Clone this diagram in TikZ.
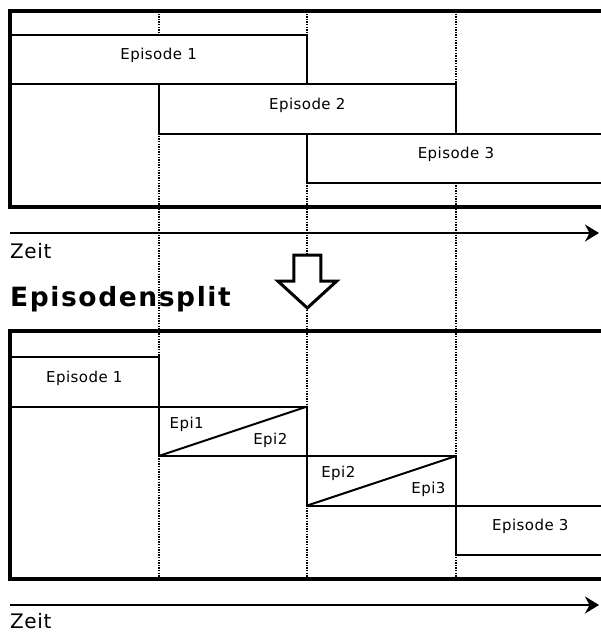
\documentclass[tikz,border=0pt]{standalone}
\usepackage{fontspec}
\setmainfont[LetterSpace=3]{DejaVu Sans}
\newfontfamily\splitfont[LetterSpace=6]{DejaVu Sans}
\usepackage{tikz}
\usetikzlibrary{arrows.meta}
\usetikzlibrary{shapes,arrows}
\usetikzlibrary{positioning}

\begin{document}
\begin{tikzpicture}[x=1pt,y=-1pt,
  rahmen/.style={draw,line width=4pt,inner sep=0pt,outer sep=0pt,anchor=north west,minimum width=600pt},
  epibox/.style={draw,fill=white,line width=2pt,inner sep=0pt,outer sep=0pt,anchor=north west,minimum height=49.5pt},
  epitext/.style={font=\fontsize{15}{18}\selectfont},
  zeittext/.style={font=\fontsize{20}{24}\selectfont,inner sep=0pt,anchor=base west},
  raster/.style={line width=1.7pt,dash pattern=on 1.4pt off 1.2pt},
  pfeil/.style={line width=2pt,-{Stealth[length=14pt,width=17pt]}}]
\useasboundingbox (0,0) rectangle (600,632);

% Zeitraster
\foreach \x in {158.7,307.3,456}
  \draw[raster] (\x,11) -- (\x,579);

% vorher
\node[epibox,minimum width=297.3pt] (A1) at (10,34.5) {};
\node[epibox,minimum width=297.3pt] (A2) at (A1.south) {};
\node[epibox,minimum width=297.3pt] (A3) at (A2.south) {};
\node[epitext] (A1t) at ([yshift=3.5pt]A1.center) {Episode 1};
\node[epitext] (A2t) at ([yshift=3.5pt]A2.center) {Episode 2};
\node[epitext] (A3t) at ([yshift=3.5pt]A3.center) {Episode 3};
\node[rahmen,minimum height=196pt] (R1) at (10,11) {};

\coordinate (z1a) at (10,233);
\coordinate (z1b) at (599,233);
\draw[pfeil] (z1a) -- (z1b);
\node[zeittext] (zeit1) at ([shift={(0,25)}]z1a) {Zeit};

% Umwandlung
\coordinate (pf) at (307.3,255);
\draw[line width=3pt,fill=white,miter limit=10]
  ([shift={(-13.5,0)}]pf) -- ([shift={(13.5,0)}]pf) -- ([shift={(13.5,26)}]pf)
  -- ([shift={(29.5,26)}]pf) -- ([shift={(0,53)}]pf) -- ([shift={(-29.5,26)}]pf)
  -- ([shift={(-13.5,26)}]pf) -- cycle;
\node[font=\splitfont\bfseries\fontsize{26.5}{30}\selectfont,inner sep=0pt,anchor=base west] (split) at (10,306) {Episodensplit};

% nachher
\node[epibox,minimum width=148.7pt] (B1) at (10,357) {};
\node[epibox,minimum width=148.6pt] (B2) at (B1.south east) {};
\node[epibox,minimum width=148.7pt] (B3) at (B2.south east) {};
\node[epibox,minimum width=148.7pt] (B4) at (B3.south east) {};
\draw[line width=2pt] (B2.south west) -- (B2.north east);
\draw[line width=2pt] (B3.south west) -- (B3.north east);
\node[epitext] (B1t) at ([yshift=3.5pt]B1.center) {Episode 1};
\node[epitext] (B2a) at ([shift={(28,18)}]B2.north west) {Epi1};
\node[epitext] (B2b) at ([shift={(-37,-16)}]B2.south east) {Epi2};
\node[epitext] (B3a) at ([shift={(31,17)}]B3.north west) {Epi2};
\node[epitext] (B3b) at ([shift={(-27.5,-16)}]B3.south east) {Epi3};
\node[epitext] (B4t) at ([yshift=3.5pt]B4.center) {Episode 3};
\node[rahmen,minimum height=248pt] (R2) at (10,331) {};

\coordinate (z2a) at (10,605);
\coordinate (z2b) at (599,605);
\draw[pfeil] (z2a) -- (z2b);
\node[zeittext] (zeit2) at ([shift={(0,23)}]z2a) {Zeit};
\end{tikzpicture}
\end{document}
